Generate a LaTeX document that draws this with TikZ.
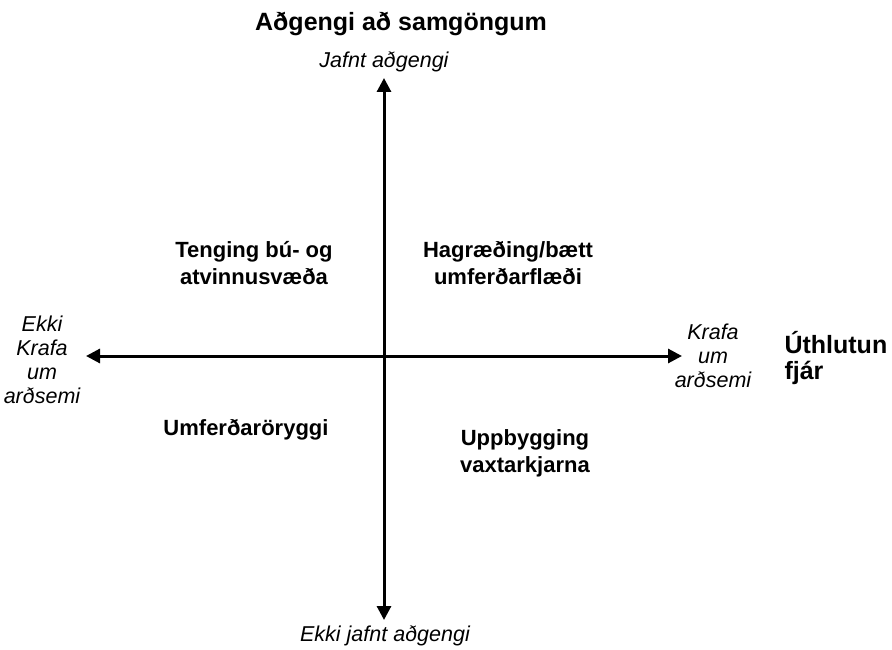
\documentclass[tikz,border=0pt]{standalone}
\usepackage{fontspec}
\setmainfont{Liberation Sans}
\usetikzlibrary{arrows.meta}
\tikzset{
  axis/.style={line width=3pt,-{Triangle[width=14pt,length=14pt]}},
  lbl/.style={font=\fontsize{22}{27}\selectfont\bfseries,align=center},
  ax/.style={font=\fontsize{21.5}{24}\selectfont\itshape,align=center},
  ttl/.style={font=\fontsize{25}{26}\selectfont\bfseries,align=center}
}
\begin{document}
\begin{tikzpicture}[x=1pt,y=-1pt]
\useasboundingbox (0,0) rectangle (892,650);
\coordinate (c) at (384,356);
\coordinate (top) at (384,78);
\coordinate (bot) at (384,620);
\coordinate (lft) at (86,356);
\coordinate (rgt) at (682,356);
\draw[axis] (c) -- (top);
\draw[axis] (c) -- (bot);
\draw[axis] (c) -- (lft);
\draw[axis] (c) -- (rgt);
\node[ttl] (title) at (401,24) {Aðgengi að samgöngum};
\node[ax] (jafn) at (384,62) {Jafnt aðgengi};
\node[ax] (ekkij) at (385,636) {Ekki jafnt aðgengi};
\node[ax] (ekkik) at (42,360) {Ekki\\Krafa\\um\\arðsemi};
\node[ax] (krafa) at (713,356) {Krafa\\um\\arðsemi};
\node[ttl,align=left,anchor=west] (uth) at (781,358) {Úthlutun\\fjár};
\node[lbl] (teng) at (254,263) {Tenging bú- og\\atvinnusvæða};
\node[lbl] (hag) at (508,263) {Hagræðing/bætt\\umferðarflæði};
\node[lbl] (umf) at (246,430) {Umferðaröryggi};
\node[lbl] (upp) at (525,453) {Uppbygging\\vaxtarkjarna};
\end{tikzpicture}
\end{document}
